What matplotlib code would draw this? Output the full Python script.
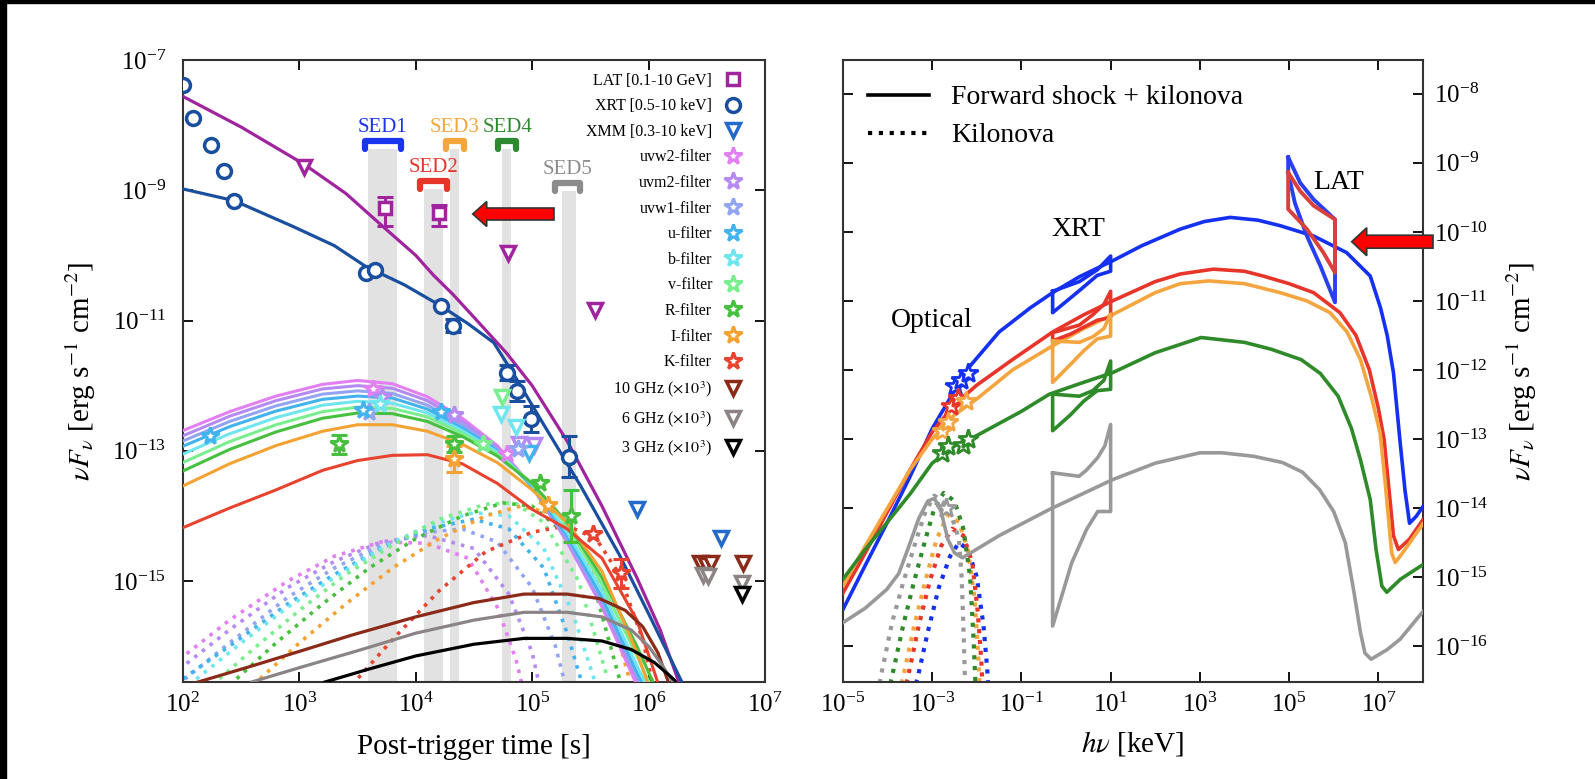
import numpy as np
import matplotlib
matplotlib.use("Agg")
import matplotlib.pyplot as plt
from matplotlib.patches import Rectangle, FancyArrow
from matplotlib.ticker import NullLocator

plt.rcParams['font.family'] = 'serif'
plt.rcParams['font.serif'] = ['Liberation Serif', 'DejaVu Serif']
plt.rcParams['mathtext.fontset'] = 'stix'
plt.rcParams['axes.linewidth'] = 1.5
plt.rcParams['axes.edgecolor'] = '#333333'


def L(v):
    return 10 ** np.asarray(v, dtype=float)


# ---------------- left panel: light curves (log10 values) ----------------
lat_model_t = [2.0, 2.5, 3.04, 3.4, 3.72, 4.0, 4.15, 4.32, 4.5, 4.78, 5.0, 5.3, 5.6, 5.9, 6.1, 6.27]
lat_model_f = [-7.56, -8.03, -8.60, -9.05, -9.56, -10.0, -10.3, -10.6, -10.95, -11.5, -12.0, -12.85, -13.85, -14.95, -15.75, -16.6]
xrt_model_t = [2.0, 2.44, 2.95, 3.3, 3.57, 3.9, 4.22, 4.45, 4.67, 4.85, 5.0, 5.1, 5.42, 5.75, 6.0, 6.3]
xrt_model_f = [-8.98, -9.16, -9.56, -9.85, -10.17, -10.45, -10.78, -11.05, -11.34, -11.85, -12.3, -12.6, -13.55, -14.6, -15.5, -16.6]

lat_t = [3.74, 4.20]
lat_f = [-9.28, -9.35]
lat_elo = [0.27, 0.20]
lat_ehi = [0.17, 0.12]
lat_ul_t = [3.04, 4.795, 5.54]
lat_ul_f = [-8.65, -9.97, -10.84]

xrt_t = [2.0, 2.09, 2.24, 2.35, 2.44, 3.57, 3.65, 4.22, 4.32, 4.78, 4.87, 4.99, 5.32]
xrt_f = [-7.38, -7.89, -8.31, -8.71, -9.17, -10.27, -10.23, -10.78, -11.08, -11.80, -12.08, -12.51, -13.09]
xrt_err = [0, 0, 0, 0, 0, 0, 0, 0, 0.1, 0.12, 0.15, 0.2, 0.32]

xmm_ul_t = [5.90, 6.62]
xmm_ul_f = [-13.9, -14.34]

filters = ['uvw2', 'uvm2', 'uvw1', 'u', 'b', 'v', 'R', 'I', 'K']
filter_colors = ['#e27ff2', '#b58af2', '#93a4f2', '#43b3ee', '#6fe6ee', '#7aee8e', '#46c03e', '#f4a232', '#e8432f']

star_t = [[3.63, 4.78], [3.71, 4.33], [3.60, 4.88], [2.23, 3.55, 4.22], [3.69], [4.58],
          [3.34, 4.33, 5.07, 5.33], [4.33, 5.14], [5.52, 5.76]]
star_f = [[-12.05, -13.05], [-12.17, -12.45], [-12.4, -12.98], [-12.78, -12.37, -12.40], [-12.28], [-12.9],
          [-12.9, -12.9, -13.5, -14.0], [-13.12, -13.83], [-14.27, -14.88]]
star_err = [[0, 0], [0, 0], [0, 0], [0, 0, 0], [0], [0],
            [0.15, 0.12, 0, 0.4], [0.2, 0], [0, 0.22]]
opt_ul_t = [[], [4.89, 5.02], [], [4.97], [4.73, 4.86], [4.74], [], [], []]
opt_ul_f = [[], [-12.89, -12.91], [], [-13.04], [-12.43, -12.63], [-12.18], [], [], []]

opt_model_t = [2.0, 2.4, 2.8, 3.2, 3.5, 3.8, 4.1, 4.4, 4.7, 5.0, 5.3, 5.6, 5.9, 6.2]
opt_model_f = [
    [-12.69, -12.40, -12.16, -11.98, -11.92, -11.97, -12.17, -12.50, -12.92, -13.55, -14.40, -15.40, -16.60, -17.8],
    [-12.77, -12.47, -12.23, -12.05, -12.00, -12.04, -12.23, -12.55, -12.95, -13.55, -14.38, -15.35, -16.50, -17.7],
    [-12.85, -12.55, -12.31, -12.13, -12.08, -12.12, -12.30, -12.60, -12.98, -13.55, -14.35, -15.30, -16.45, -17.6],
    [-12.93, -12.63, -12.39, -12.21, -12.16, -12.19, -12.36, -12.65, -13.00, -13.55, -14.30, -15.25, -16.40, -17.5],
    [-13.05, -12.74, -12.49, -12.30, -12.24, -12.27, -12.42, -12.69, -13.02, -13.52, -14.25, -15.15, -16.30, -17.4],
    [-13.18, -12.86, -12.60, -12.40, -12.33, -12.35, -12.48, -12.73, -13.05, -13.50, -14.15, -15.05, -16.15, -17.3],
    [-13.31, -12.98, -12.71, -12.50, -12.42, -12.43, -12.55, -12.78, -13.08, -13.50, -14.10, -14.95, -16.00, -17.2],
    [-13.54, -13.20, -12.92, -12.70, -12.60, -12.60, -12.70, -12.90, -13.18, -13.60, -14.10, -14.85, -16.10, -17.6],
    [-14.18, -13.88, -13.60, -13.30, -13.15, -13.07, -13.06, -13.20, -13.50, -13.90, -14.20, -14.65, -15.60, -17.2],
]

kn_left_t = [
    [1.9, 2.4, 2.9, 3.3, 3.7, 4.1, 4.45, 4.7, 4.86, 4.97],
    [1.9, 2.4, 2.9, 3.3, 3.7, 4.1, 4.5, 4.8, 5.0, 5.1],
    [1.95, 2.4, 2.9, 3.3, 3.7, 4.1, 4.4, 4.7, 5.0, 5.2, 5.3],
    [2.0, 2.4, 2.9, 3.3, 3.7, 4.1, 4.5, 4.8, 5.1, 5.3, 5.45],
    [2.05, 2.5, 2.9, 3.3, 3.7, 4.1, 4.5, 4.8, 5.1, 5.35, 5.55],
    [2.25, 2.6, 3.0, 3.4, 3.8, 4.2, 4.6, 4.85, 5.1, 5.4, 5.65],
    [2.4, 2.8, 3.2, 3.6, 4.0, 4.4, 4.75, 5.0, 5.3, 5.55, 5.75],
    [2.6, 3.0, 3.4, 3.8, 4.2, 4.6, 4.9, 5.15, 5.4, 5.65, 5.85],
    [3.45, 3.8, 4.2, 4.6, 5.0, 5.3, 5.55, 5.75, 5.95, 6.05],
]
kn_left_f = [
    [-16.3, -15.6, -15.0, -14.62, -14.4, -14.42, -14.65, -15.4, -16.2, -17.0],
    [-16.45, -15.75, -15.1, -14.7, -14.4, -14.3, -14.5, -15.2, -16.1, -16.9],
    [-16.6, -15.95, -15.25, -14.8, -14.45, -14.25, -14.2, -14.4, -15.1, -16.0, -16.7],
    [-16.5, -16.0, -15.35, -14.9, -14.5, -14.2, -14.05, -14.2, -14.8, -15.8, -16.7],
    [-16.6, -15.95, -15.4, -14.95, -14.5, -14.15, -13.95, -14.0, -14.5, -15.5, -16.6],
    [-16.6, -16.05, -15.45, -14.9, -14.45, -14.05, -13.82, -13.8, -14.1, -15.0, -16.5],
    [-16.6, -15.95, -15.35, -14.8, -14.35, -14.0, -13.8, -13.85, -14.3, -15.2, -16.5],
    [-16.6, -15.95, -15.35, -14.8, -14.35, -14.0, -13.85, -13.95, -14.4, -15.3, -16.6],
    [-16.6, -15.9, -15.15, -14.55, -14.25, -14.15, -14.35, -14.9, -15.9, -16.7],
]

radio_labels = [r'10 GHz ($\times10^3$)', r'6 GHz ($\times10^3$)', r'3 GHz ($\times10^3$)']
radio_colors = ['#8b2a18', '#8c8484', '#000000']
radio_model_t = [
    [2.13, 2.6, 3.0, 3.45, 4.0, 4.5, 4.93, 5.3, 5.58, 5.8, 5.95, 6.08, 6.17],
    [2.59, 3.0, 3.5, 4.0, 4.5, 4.93, 5.3, 5.6, 5.85, 6.0, 6.12, 6.21],
    [3.22, 3.6, 4.0, 4.5, 4.93, 5.3, 5.6, 5.85, 6.05, 6.18, 6.27],
]
radio_model_f = [
    [-16.55, -16.3, -16.08, -15.83, -15.55, -15.33, -15.2, -15.2, -15.27, -15.45, -15.7, -16.1, -16.55],
    [-16.55, -16.33, -16.07, -15.8, -15.6, -15.48, -15.48, -15.55, -15.75, -16.0, -16.3, -16.55],
    [-16.55, -16.35, -16.15, -15.97, -15.88, -15.88, -15.92, -16.05, -16.25, -16.45, -16.6],
]
radio_ul_t = [[6.44, 6.49, 6.54, 6.81], [6.47, 6.51, 6.80], [6.80]]
radio_ul_f = [[-14.72, -14.75, -14.72, -14.72], [-14.9, -14.93, -15.03], [-15.2]]

sed_names = ['SED1', 'SED2', 'SED3', 'SED4', 'SED5']
sed_colors = ['#1a35f0', '#e8352a', '#f2a63c', '#2e8a2e', '#8c8c8c']
sed_band_lo = [3.59, 4.07, 4.29, 4.74, 5.26]
sed_band_hi = [3.84, 4.23, 4.37, 4.82, 5.38]
sed_mark_lo = [3.565, 4.04, 4.26, 4.71, 5.20]
sed_mark_hi = [3.87, 4.27, 4.415, 4.86, 5.41]
sed_mark_top = [-8.24, -8.86, -8.24, -8.24, -8.89]
sed_mark_bot = [-8.36, -8.98, -8.36, -8.36, -9.01]

# ---------------- right panel: SEDs (log10 keV, log10 flux) ----------------
sed_line_colors = ['#1430f0', '#e8352a', '#f5a540', '#2f8a2a', '#999999']
fs_e = [
    [-5, -4.5, -4, -3.5, -3, -2.5, -2.2, -1.5, -0.8, -0.3, 0.3, 1.04, 1.7, 2.56, 3.1, 3.68, 4.3, 4.8, 5.55, 6.29,
     6.82, 7.05, 7.2, 7.34, 7.49, 7.6, 7.7, 7.85, 8.0],
    [-5, -4.5, -4, -3.5, -3, -2.5, -2, -1.2, -0.3, 0.4, 1.04, 2.0, 2.56, 3.3, 4.0, 4.42, 5.0, 5.55, 6.14, 6.5,
     6.8, 7.0, 7.13, 7.25, 7.34, 7.45, 7.7, 8.0],
    [-5, -4.5, -4, -3.5, -3, -2.5, -2, -1.2, -0.3, 0.4, 1.04, 2.0, 2.56, 3.2, 4.0, 4.8, 5.4, 5.92, 6.3, 6.6,
     6.85, 7.04, 7.15, 7.3, 7.38, 7.6, 8.0],
    [-5, -4.5, -4, -3.5, -3, -2.5, -2, -1, -0.37, 0.3, 1.04, 2.0, 3.03, 4.0, 4.6, 5.27, 5.7, 6.1, 6.4, 6.6,
     6.82, 6.95, 7.08, 7.19, 7.5, 8.0],
    [-5, -4.5, -4.02, -3.75, -3.52, -3.3, -3.1, -2.95, -2.8, -2.65, -2.5, -2.32, -1.5, -0.37, 1.04, 2.0, 3.0,
     3.5, 4.2, 4.85, 5.3, 5.68, 6.0, 6.26, 6.45, 6.6, 6.7, 6.84, 7.2, 7.49, 8.0],
]
fs_f = [
    [-15.47, -14.83, -14.2, -13.55, -12.85, -12.3, -11.98, -11.45, -11.1, -10.88, -10.65, -10.42, -10.2, -9.96,
     -9.85, -9.79, -9.83, -9.91, -10.06, -10.3, -10.64, -11.1, -11.5, -12.04, -13.05, -13.75, -14.22, -14.12, -13.98],
    [-15.23, -14.65, -14.05, -13.45, -12.9, -12.5, -12.22, -11.85, -11.45, -11.2, -11.0, -10.72, -10.61, -10.54,
     -10.57, -10.64, -10.75, -10.88, -11.17, -11.5, -12.0, -12.55, -13.0, -13.8, -14.4, -14.6, -14.45, -14.17],
    [-15.13, -14.55, -14.0, -13.45, -13.0, -12.65, -12.42, -12.0, -11.65, -11.4, -11.2, -10.88, -10.75, -10.71,
     -10.75, -10.88, -11.0, -11.17, -11.45, -11.85, -12.4, -12.91, -13.6, -14.65, -14.79, -14.6, -14.23],
    [-15.03, -14.6, -14.2, -13.8, -13.35, -13.1, -12.95, -12.6, -12.35, -12.2, -12.04, -11.75, -11.53, -11.6,
     -11.7, -11.85, -12.05, -12.38, -12.85, -13.3, -13.88, -14.6, -15.13, -15.22, -15.03, -14.82],
    [-15.66, -15.45, -15.18, -14.95, -14.55, -14.15, -13.9, -13.86, -14.05, -14.45, -14.65, -14.72, -14.4, -14.02,
     -13.59, -13.35, -13.2, -13.2, -13.25, -13.34, -13.48, -13.73, -14.05, -14.5, -15.2, -15.8, -16.1, -16.19,
     -16.05, -15.9, -15.5],
]

kn_e = [
    [-3.55, -3.32, -3.1, -2.85, -2.6, -2.4, -2.2, -2.0, -1.85, -1.77, -1.7],
    [-3.75, -3.54, -3.3, -3.05, -2.8, -2.55, -2.3, -2.1, -1.98, -1.9, -1.85],
    [-3.85, -3.65, -3.4, -3.15, -2.9, -2.65, -2.4, -2.2, -2.05, -1.97, -1.92],
    [-4.1, -3.9, -3.65, -3.4, -3.15, -2.95, -2.74, -2.5, -2.3, -2.15, -2.08, -2.02],
    [-4.3, -4.15, -3.9, -3.65, -3.4, -3.15, -2.95, -2.75, -2.55, -2.4, -2.34, -2.3, -2.26],
]
kn_f = [
    [-17.0, -16.44, -15.8, -15.15, -14.7, -14.5, -14.6, -15.0, -15.7, -16.3, -17.0],
    [-17.0, -16.44, -15.7, -15.05, -14.55, -14.3, -14.4, -14.8, -15.5, -16.2, -16.9],
    [-17.0, -16.44, -15.7, -15.05, -14.45, -14.1, -14.2, -14.6, -15.3, -16.1, -16.8],
    [-17.0, -16.44, -15.7, -15.05, -14.45, -14.0, -13.78, -13.9, -14.3, -15.0, -15.8, -16.7],
    [-17.0, -16.44, -15.66, -15.08, -14.55, -14.05, -13.82, -13.92, -14.15, -14.45, -15.0, -15.7, -16.6],
]

opt_sed_e = [[-2.49, -2.36, -2.20], [-2.57, -2.41], [-2.78, -2.65, -2.24], [-2.78, -2.65, -2.32, -2.20], [-2.70]]
opt_sed_f = [[-12.23, -12.14, -12.04], [-12.52, -12.40], [-12.89, -12.75, -12.45], [-13.20, -13.1, -13.08, -13.0], [-14.0]]

xrt_bow_e = [
    [-0.3, 0.3, 0.7, 1.0, 1.0, 0.7, 0.3, -0.3, -0.3],
    [-0.3, 0.3, 0.6, 0.85, 1.0, 1.0, 0.7, 0.4, 0.1, -0.3, -0.3],
    [-0.3, 0.3, 0.6, 0.85, 1.0, 1.0, 0.7, 0.4, 0.1, -0.3, -0.3],
    [-0.3, 0.3, 0.6, 0.85, 1.0, 1.0, 0.7, 0.4, 0.1, -0.3, -0.3],
    [-0.3, 0.29, 0.46, 0.71, 0.87, 1.0, 1.0, 0.71, 0.46, 0.13, -0.3, -0.3],
]
xrt_bow_f = [
    [-10.86, -10.72, -10.55, -10.35, -10.57, -10.63, -10.85, -11.17, -10.86],
    [-11.46, -11.35, -11.2, -11.05, -10.86, -11.24, -11.28, -11.38, -11.48, -11.58, -11.46],
    [-11.58, -11.6, -11.52, -11.4, -11.19, -11.51, -11.55, -11.72, -11.92, -12.18, -11.58],
    [-12.35, -12.38, -12.3, -12.15, -11.87, -12.28, -12.3, -12.45, -12.65, -12.88, -12.35],
    [-13.49, -13.54, -13.45, -13.27, -13.1, -12.79, -14.05, -14.05, -14.31, -14.79, -15.71, -13.49],
]
lat_bow_colors = ['#2a3ff0', '#d9403e']
lat_bow_e = [
    [4.98, 5.25, 5.55, 6.03, 6.03, 5.70, 5.40, 5.13, 4.98, 4.98],
    [4.98, 5.25, 5.55, 6.03, 6.03, 5.77, 5.40, 4.98, 4.98],
]
lat_bow_f = [
    [-8.92, -9.29, -9.53, -9.82, -11.02, -10.49, -10.06, -9.58, -9.14, -8.92],
    [-9.14, -9.41, -9.62, -9.82, -10.59, -10.30, -9.96, -9.67, -9.14],
]

# ---------------- figure ----------------
fig = plt.figure(figsize=(15.95, 7.79), dpi=100)
ax1 = fig.add_axes([0.1147, 0.1245, 0.3649, 0.7985])
ax2 = fig.add_axes([0.5285, 0.1245, 0.3636, 0.7985])

# black scan border
fig.patches.append(Rectangle((0, 0), 6 / 1595, 1, transform=fig.transFigure, color='k', zorder=-5))
fig.patches.append(Rectangle((0, 1 - 3 / 779), 1, 3 / 779, transform=fig.transFigure, color='k', zorder=-5))

# SED bands and markers
for i in range(len(sed_names)):
    ax1.fill_between(L([sed_band_lo[i], sed_band_hi[i]]), 1e-18, L(sed_mark_bot[i]),
                     color='#e2e2e2', lw=0, zorder=0)
    ax1.plot(L([sed_mark_lo[i], sed_mark_lo[i], sed_mark_hi[i], sed_mark_hi[i]]),
             L([sed_mark_bot[i], sed_mark_top[i], sed_mark_top[i], sed_mark_bot[i]]),
             color=sed_colors[i], lw=4.5, solid_capstyle='round', solid_joinstyle='round', zorder=3)
    ax1.annotate(sed_names[i], (L((sed_mark_lo[i] + sed_mark_hi[i]) / 2), L(sed_mark_top[i])),
                 xytext=(0, 3), textcoords='offset points', color=sed_colors[i], fontsize=15,
                 ha='center', va='bottom')

# models
ax1.plot(L(lat_model_t), L(lat_model_f), color='#a0249e', lw=2.3, zorder=4)
ax1.plot(L(xrt_model_t), L(xrt_model_f), color='#1a4e9e', lw=2.3, zorder=4)
for i in range(len(filters)):
    ax1.plot(L(opt_model_t), L(opt_model_f[i]), color=filter_colors[i], lw=2.2, zorder=3)
    ax1.plot(L(kn_left_t[i]), L(kn_left_f[i]), color=filter_colors[i], lw=2.6,
             linestyle=(0, (1, 1.7)), zorder=2)
for i in range(3):
    ax1.plot(L(radio_model_t[i]), L(radio_model_f[i]), color=radio_colors[i], lw=2.3, zorder=3)

# data
handles = []
h, = ax1.plot(L(lat_t), L(lat_f), 's', ms=9, mfc='white', mec='#a0249e', mew=2.5, zorder=6,
              label='LAT [0.1-10 GeV]')
ax1.errorbar(L(lat_t), L(lat_f), yerr=[L(lat_f) - L(np.subtract(lat_f, lat_elo)),
                                       L(np.add(lat_f, lat_ehi)) - L(lat_f)],
             fmt='none', ecolor='#a0249e', elinewidth=2.2, capsize=6, capthick=2.2, zorder=5)
handles.append(h)
ax1.plot(L(lat_ul_t), L(lat_ul_f), 'v', ms=10, mfc='white', mec='#a0249e', mew=2.5, zorder=6)

h, = ax1.plot(L(xrt_t), L(xrt_f), 'o', ms=10, mfc='white', mec='#1a4e9e', mew=2.5, zorder=6,
              label='XRT [0.5-10 keV]')
handles.append(h)
xe = [k for k in range(len(xrt_t)) if xrt_err[k] > 0]
xt = np.array([xrt_t[k] for k in xe])
xf = np.array([xrt_f[k] for k in xe])
xer = np.array([xrt_err[k] for k in xe])
ax1.errorbar(L(xt), L(xf), yerr=[L(xf) - L(xf - xer), L(xf + xer) - L(xf)], fmt='none',
             ecolor='#1a4e9e', elinewidth=2.2, capsize=6, capthick=2.2, zorder=5)

h, = ax1.plot(L(xmm_ul_t), L(xmm_ul_f), 'v', ms=10, mfc='white', mec='#2469cc', mew=2.5, zorder=6,
              label='XMM [0.3-10 keV]')
handles.append(h)

for i in range(len(filters)):
    st = np.array(star_t[i])
    sf = np.array(star_f[i])
    se = np.array(star_err[i])
    h, = ax1.plot(L(st), L(sf), '*', ms=13, mfc='white', mec=filter_colors[i], mew=2.2, zorder=7,
                  label=filters[i] + '-filter')
    handles.append(h)
    m = se > 0
    if m.any():
        ax1.errorbar(L(st[m]), L(sf[m]), yerr=[L(sf[m]) - L(sf[m] - se[m]), L(sf[m] + se[m]) - L(sf[m])],
                     fmt='none', ecolor=filter_colors[i], elinewidth=2.2, capsize=6, capthick=2.2, zorder=6)
    if opt_ul_t[i]:
        ax1.plot(L(opt_ul_t[i]), L(opt_ul_f[i]), 'v', ms=10, mfc='white', mec=filter_colors[i],
                 mew=2.5, zorder=6)

for i in range(3):
    h, = ax1.plot(L(radio_ul_t[i]), L(radio_ul_f[i]), 'v', ms=10, mfc='white', mec=radio_colors[i],
                  mew=2.5, zorder=6, label=radio_labels[i])
    handles.append(h)

ax1.set_xscale('log')
ax1.set_yscale('log')
ax1.set_xlim(1e2, 1e7)
ax1.set_ylim(L(-16.55), 1e-7)
ax1.set_xticks(L([2, 3, 4, 5, 6, 7]))
ax1.set_yticks(L([-7, -9, -11, -13, -15]))
ax1.xaxis.set_minor_locator(NullLocator())
ax1.yaxis.set_minor_locator(NullLocator())
ax1.tick_params(direction='in', top=True, right=True, length=7, width=1.3, labelsize=18, pad=8)
ax1.tick_params(axis='y', pad=12)
ax1.set_xlabel('Post-trigger time [s]', fontsize=21, labelpad=12)
ax1.set_ylabel(r'$\nu F_\nu$ [erg s$^{-1}$ cm$^{-2}$]', fontsize=21, labelpad=10)
ax1.legend(handles=handles, loc='upper right', bbox_to_anchor=(0.975, 0.995), frameon=False,
           fontsize=11.5, markerfirst=False, handlelength=1.0, handletextpad=0.8, labelspacing=0.6,
           numpoints=1, borderaxespad=0.2)

# ---------------- right panel ----------------
for i in range(5):
    ax2.plot(L(fs_e[i]), L(fs_f[i]), color=sed_line_colors[i], lw=2.6, zorder=3)
    ax2.plot(L(kn_e[i]), L(kn_f[i]), color=sed_line_colors[i], lw=3.0, linestyle=(0, (1, 1.6)), zorder=2)
    ax2.plot(L(xrt_bow_e[i]), L(xrt_bow_f[i]), color=sed_line_colors[i], lw=2.6, zorder=4)
    ax2.plot(L(opt_sed_e[i]), L(opt_sed_f[i]), '*', ms=15, mfc='white', mec=sed_line_colors[i],
             mew=2.0, zorder=6)
for i in range(2):
    ax2.plot(L(lat_bow_e[i]), L(lat_bow_f[i]), color=lat_bow_colors[i], lw=2.8, zorder=4 + i)

ax2.text(L(-3.01), L(-11.29), 'Optical', fontsize=20, ha='center', va='center')
ax2.text(L(0.27), L(-9.97), 'XRT', fontsize=20, ha='center', va='center')
ax2.text(L(6.11), L(-9.29), 'LAT', fontsize=20, ha='center', va='center')

ax2.plot([], [], color='k', lw=2.6, label='Forward shock + kilonova')
ax2.plot([], [], color='k', lw=3.0, linestyle=(0, (1, 1.6)), label='Kilonova')
ax2.legend(loc='upper left', frameon=False, fontsize=20, handlelength=2.2, handletextpad=0.8,
           labelspacing=0.45, borderaxespad=0.5)

ax2.set_xscale('log')
ax2.set_yscale('log')
ax2.set_xlim(1e-5, 1e8)
ax2.set_ylim(L(-16.52), L(-7.51))
ax2.set_xticks(L([-5, -3, -1, 1, 3, 5, 7]))
ax2.set_yticks(L([-8, -9, -10, -11, -12, -13, -14, -15, -16]))
ax2.xaxis.set_minor_locator(NullLocator())
ax2.yaxis.set_minor_locator(NullLocator())
ax2.tick_params(direction='in', top=True, right=True, left=True, labelleft=False, labelright=True,
                length=7, width=1.3, labelsize=18, pad=8)
ax2.set_xlabel(r'$h\nu$ [keV]', fontsize=21, labelpad=8)
ax2.yaxis.set_label_position('right')
ax2.set_ylabel(r'$\nu F_\nu$ [erg s$^{-1}$ cm$^{-2}$]', fontsize=21, labelpad=12)

# red arrows
fig.patches.append(FancyArrow(554 / 1595, 1 - 214 / 779, -(554 - 472.7) / 1595, 0,
                              width=12 / 779, head_width=25 / 779, head_length=14 / 1595,
                              length_includes_head=True, transform=fig.transFigure,
                              facecolor='#ff0000', edgecolor='#333333', lw=1.2, zorder=10))
fig.patches.append(FancyArrow(1433 / 1595, 1 - 241.7 / 779, -(1433 - 1351.7) / 1595, 0,
                              width=13 / 779, head_width=28 / 779, head_length=15 / 1595,
                              length_includes_head=True, transform=fig.transFigure,
                              facecolor='#ff0000', edgecolor='#333333', lw=1.2, zorder=10))

fig.savefig('out.png', dpi=100)
